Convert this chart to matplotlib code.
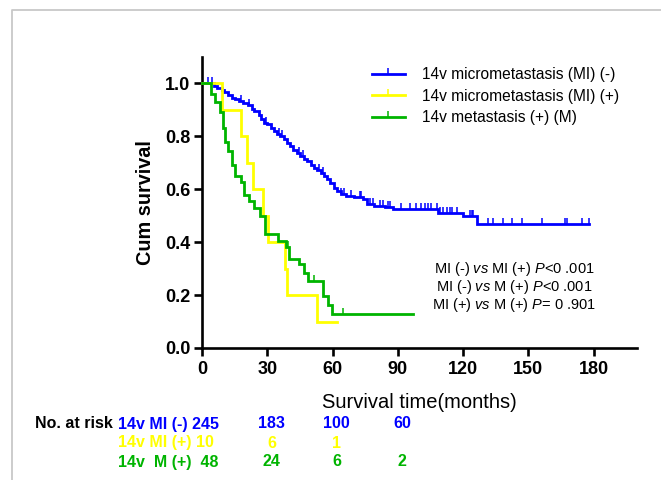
import numpy as np
import matplotlib
matplotlib.use('Agg')
import matplotlib.pyplot as plt
from matplotlib.lines import Line2D
from matplotlib.transforms import blended_transform_factory

plt.rcParams['font.family'] = ['Liberation Sans', 'DejaVu Sans']
plt.rcParams['mathtext.fontset'] = 'custom'
plt.rcParams['mathtext.rm'] = 'Liberation Sans'
plt.rcParams['mathtext.it'] = 'Liberation Sans:italic'

# ---------------- data ----------------
labels = ['14v micrometastasis (MI) (-)', '14v micrometastasis (MI) (+)', '14v metastasis (+) (M)']
colors = ['#0000FF', '#FFFF00', '#00B400']

blue_t = [0, 5.5, 7, 9, 10, 12, 14, 15, 17, 19, 21, 23, 24, 26, 27, 28.5, 30, 31.5, 33, 34.5,
          36, 37.5, 39, 40.5, 42, 43.5, 45, 47, 48.5, 50, 51.5, 53, 54.5, 56, 57.5, 59, 60.5,
          62, 64, 66, 70, 74, 76, 79, 84, 88, 108.5, 120, 126.5]
blue_s = [1.0, 0.992, 0.984, 0.976, 0.968, 0.956, 0.945, 0.94, 0.934, 0.928, 0.918, 0.905,
          0.895, 0.88, 0.866, 0.852, 0.845, 0.832, 0.822, 0.81, 0.8, 0.79, 0.776, 0.762, 0.748,
          0.738, 0.726, 0.716, 0.705, 0.692, 0.682, 0.672, 0.66, 0.65, 0.638, 0.622, 0.606,
          0.594, 0.582, 0.575, 0.569, 0.562, 0.544, 0.537, 0.532, 0.525, 0.512, 0.5, 0.468]
blue_end = 178
blue_cens = [2.8, 4.5, 17.8, 21.7, 29.4, 35.5, 37, 44.8, 46.3, 54, 55.5, 64, 65.5, 68.6, 72.5,
             73.2, 77.1, 78.6, 81.7, 83.2, 85.5, 86.3, 91.7, 95.5, 98.6, 100.9, 102.5, 104,
             105.5, 107.9, 109.4, 110.9, 112.5, 114, 114.8, 117.1, 123.2, 124, 124.8, 131.7,
             134, 138.6, 142.5, 147.1, 156.3, 167.1, 167.8, 174.8, 177.8]

yellow_t = [0, 9, 18, 20.5, 23.5, 28, 30.5, 38, 39, 53]
yellow_s = [1.0, 0.9, 0.8, 0.7, 0.6, 0.5, 0.4, 0.3, 0.2, 0.1]
yellow_end = 62
yellow_cens = []

green_t = [0, 4.3, 6, 8.2, 9.7, 10.6, 12, 13.8, 15.2, 18, 19.4, 21.7, 24, 26.5, 29.1, 34.8,
           38.6, 40.2, 44.8, 47, 48.6, 55.5, 57.8, 59.8]
green_s = [1.0, 0.96, 0.93, 0.893, 0.83, 0.78, 0.745, 0.69, 0.65, 0.627, 0.58, 0.555, 0.53,
           0.5, 0.43, 0.404, 0.38, 0.337, 0.316, 0.285, 0.255, 0.195, 0.163, 0.13]
green_end = 97
green_cens = [39.5, 51.7, 64.6]

risk_times = [0, 30, 60, 90]
risk_names = ['14v MI (-)', '14v MI (+)', '14v  M (+) ']
risk_blue = [245, 183, 100, 60]
risk_yellow = [10, 6, 1]
risk_green = [48, 24, 6, 2]

pvals = ['MI (-) $\\mathit{vs}$ MI (+) $\\mathit{P}$<0 .001',
         'MI (-) $\\mathit{vs}$ M (+) $\\mathit{P}$<0 .001',
         'MI (+) $\\mathit{vs}$ M (+) $\\mathit{P}$= 0 .901']

xticks = [0, 30, 60, 90, 120, 150, 180]
yticks = [0.0, 0.2, 0.4, 0.6, 0.8, 1.0]

# ---------------- figure ----------------
W, H = 661, 480
fig = plt.figure(figsize=(W / 100, H / 100), dpi=100)
fig.patch.set_facecolor('white')
fig.add_artist(Line2D([12 / W, 12 / W, 1], [0, 1 - 10 / H, 1 - 10 / H],
                      transform=fig.transFigure, color='#c8c8c8', lw=1.3))

ax = fig.add_axes([202 / W, 132 / H, 435 / W, 291 / H])
ax.set_xlim(0, 200)
ax.set_ylim(0, 1.1)

series = [(blue_t, blue_s, blue_end, blue_cens),
          (yellow_t, yellow_s, yellow_end, yellow_cens),
          (green_t, green_s, green_end, green_cens)]

for (t, s, end, cens), c in zip(series, colors):
    t = np.asarray(t, float)
    s = np.asarray(s, float)
    ax.step(np.r_[t, end], np.r_[s, s[-1]], where='post', color=c, lw=2.0,
            clip_on=False, zorder=3, solid_joinstyle='miter')
    if len(cens):
        cens = np.asarray(cens, float)
        cy = s[np.searchsorted(t, cens, side='right') - 1]
        ax.plot(cens, cy, ls='none', marker=2, ms=4, mew=1.1, color=c, zorder=3, clip_on=False)

for sp in ['top', 'right']:
    ax.spines[sp].set_visible(False)
for sp in ['left', 'bottom']:
    ax.spines[sp].set_linewidth(1.9)
ax.tick_params(direction='out', length=5.5, width=1.9, labelsize=13, pad=3)
ax.set_xticks(xticks)
ax.set_yticks(yticks)
ax.set_yticklabels([f'{v:.1f}' for v in yticks], fontweight='bold')
ax.set_xticklabels([str(v) for v in xticks], fontweight='bold')
ax.tick_params(axis='x', pad=4)
ax.set_ylabel('Cum survival', fontsize=14.3, fontweight='bold', labelpad=7)
ax.set_xlabel('Survival time(months)', fontsize=14.5, labelpad=11)

handles = [Line2D([], [], color=c, lw=2.0, marker=2, ms=4, mew=1.1) for c in colors]
ax.legend(handles, labels, loc='upper left', bbox_to_anchor=(372 / W, 1 - 67 / H),
          bbox_transform=fig.transFigure, frameon=False, fontsize=11.2,
          handlelength=2.1, handletextpad=1.1, labelspacing=0.42, numpoints=1,
          borderaxespad=0, borderpad=0)

for i, txt in enumerate(pvals):
    fig.text(514 / W, 1 - (269 + 18 * i) / H, txt, ha='center', va='center', fontsize=10.5)

# at-risk table
tr = blended_transform_factory(ax.transData, fig.transFigure)
row_y = [1 - 424 / H, 1 - 443 / H, 1 - 462 / H]
fig.text(113 / W, row_y[0], 'No. at risk', ha='right', va='center', fontsize=11.5,
         fontweight='bold', color='black')
for name, risk, c, y in zip(risk_names, [risk_blue, risk_yellow, risk_green], colors, row_y):
    fig.text(118 / W, y, f'{name} {risk[0]}', ha='left', va='center', fontsize=11.5,
             fontweight='bold', color=c)
    for tt, n in zip(risk_times[1:], risk[1:]):
        ax.text(tt + 2, y, str(n), transform=tr, ha='center', va='center', fontsize=11.5,
                fontweight='bold', color=c)

fig.savefig('out.png', dpi=100)
